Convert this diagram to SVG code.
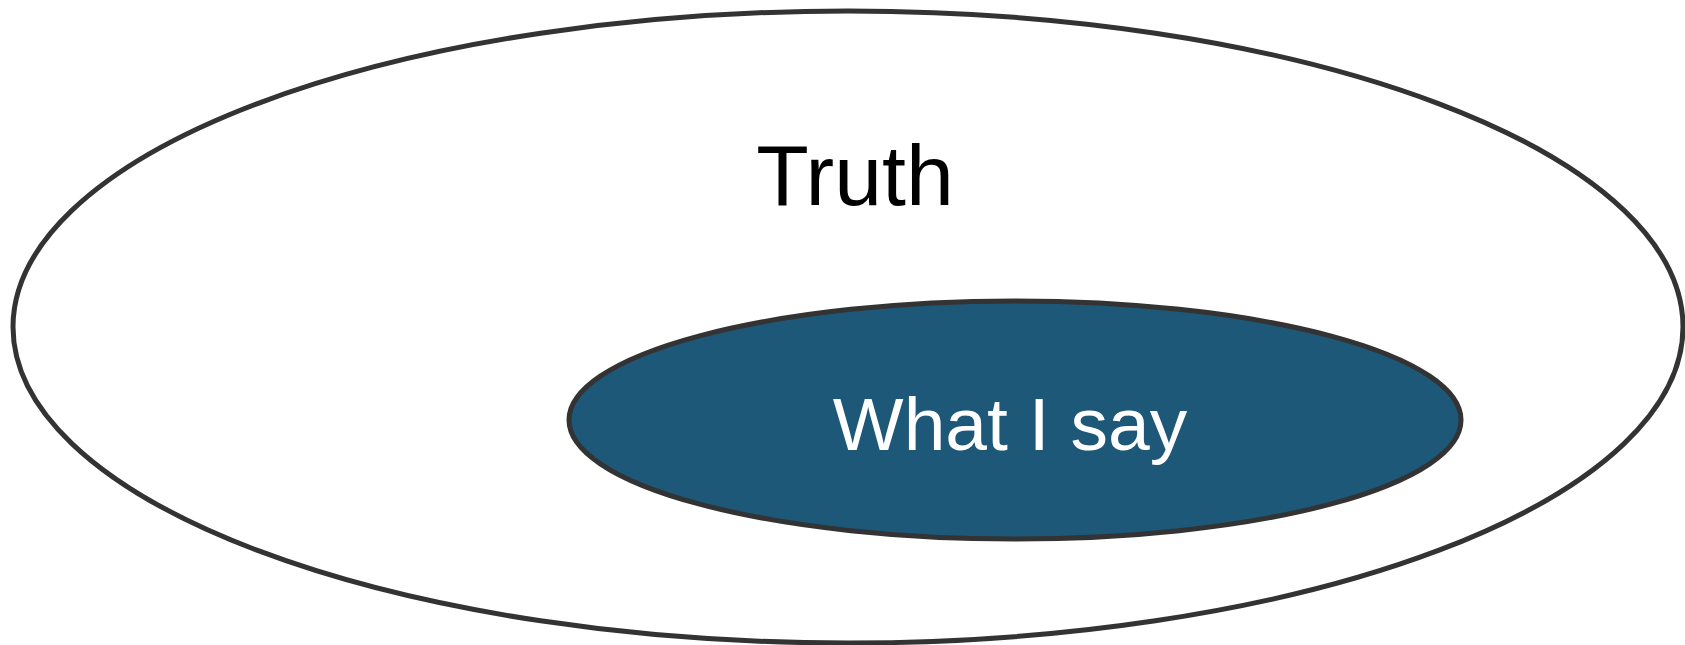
<svg xmlns="http://www.w3.org/2000/svg" width="1685" height="645" viewBox="0 0 1685 645">
<style>
.shape{stroke:#333333;stroke-width:5}
.lbl{font-family:"Liberation Sans",Arial,sans-serif;text-anchor:middle}
</style>
<rect width="1685" height="645" fill="#ffffff"/>
<g id="truth">
<ellipse class="shape" cx="848" cy="327" rx="835" ry="316" fill="#ffffff"/>
<text class="lbl" x="855" y="205" font-size="86" fill="#000000">Truth</text>
</g>
<g id="what-i-say">
<ellipse class="shape" cx="1015" cy="420" rx="446" ry="119" fill="#1e5879"/>
<text class="lbl" x="1010" y="450" font-size="75" fill="#ffffff">What I say</text>
</g>
<g id="connectors"/>
</svg>
